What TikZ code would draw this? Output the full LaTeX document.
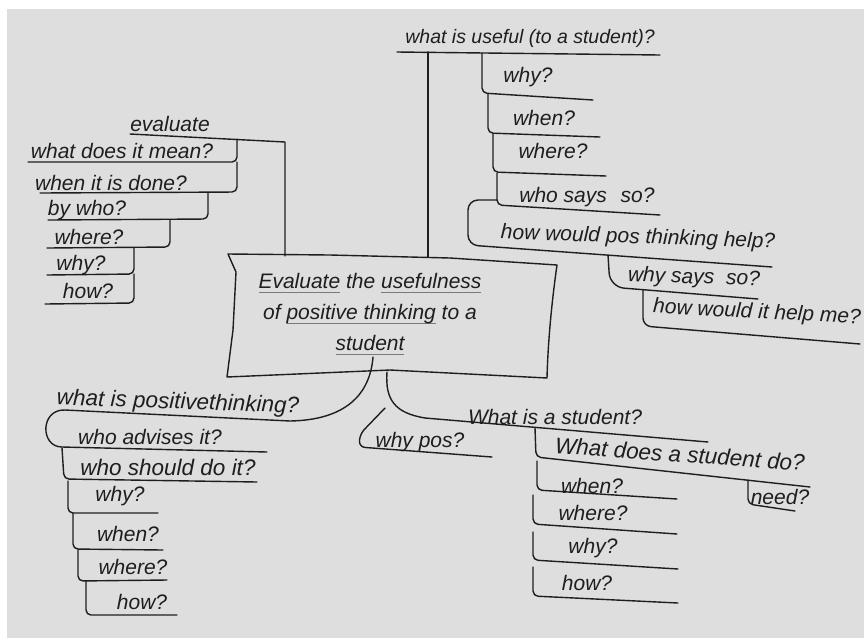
\documentclass[tikz,border=0pt]{standalone}
\usepackage{fontspec}
\setmainfont{Liberation Sans}
\usetikzlibrary{positioning}
\definecolor{paper}{HTML}{DEDEDE}
\definecolor{ink}{HTML}{1E1E1E}
\definecolor{ulgray}{HTML}{7A7A7A}
% gray underline for the words in the centre box
\newcommand{\topicul}[1]{\begingroup\setbox0\hbox{#1}\rlap{\color{ulgray}\rule[-5pt]{\wd0}{1.2pt}}\box0\endgroup}

\begin{document}
\begin{tikzpicture}[
    x=1pt, y=-1pt,
    ink line/.style={draw=ink, line width=1.4pt, line cap=round, line join=round},
    branch/.style={ink line, rounded corners=5pt},
    idea/.style={text=ink, inner sep=0pt, font=\fontsize{21}{24}\selectfont\itshape},
    big idea/.style={idea, font=\fontsize{22.5}{26}\selectfont\itshape},
    topicnode/.style={idea, align=center, font=\fontsize{21}{31}\selectfont\itshape}
]

% paper
\useasboundingbox (0,0) rectangle (864,638);
\fill[paper] (7,9) rectangle (864,638);

% Centre box
\draw[ink line] (228,254) -- (330,255) -- (450,258) -- (557,265)
    .. controls (552,300) and (548,340) .. (547,378) -- (390,370) -- (227,377)
    -- (233,330) -- (236,272) -- cycle;
\node[topicnode] (topic) at (370,314)
    {\topicul{Evaluate} the \topicul{usefulness}\\
     of \topicul{positive thinking} to a\\
     \topicul{student}};

% evaluate
\node[idea] (evaluate) at (170,124) {evaluate};
\node[idea] (evmean) at (122,151) {what does it mean?};
\node[idea] (evdone) at (111,183) {when it is done?};
\node[idea] (evwho) at (87,210) {by who?};
\node[idea] (evwhere) at (89,237) {where?};
\node[idea] (evwhy) at (81,265) {why?};
\node[idea] (evhow) at (88,291) {how?};

\draw[ink line] (285,256) -- (285,142) -- (130,134);
\draw[branch] (28,162) -- (237,162) -- (237,139);
\draw[branch] (40,193) -- (237,192) -- (237,162);
\draw[branch] (48,220) -- (208,219) -- (208,193);
\draw[branch] (47,248) -- (170,247) -- (170,220);
\draw[branch] (47,275) -- (134,274) -- (134,248);
\draw[branch] (45,304) -- (134,303) -- (134,274);

% what is useful
\node[idea, font=\fontsize{19.5}{23}\selectfont\itshape] (useful) at (530,38) {what is useful (to a student)?};
\node[idea] (uswhy) at (528,77) {why?};
\node[idea] (uswhen) at (544,118) {when?};
\node[idea] (uswhere) at (553,151) {where?};
\node[idea] (ussays) at (587,197) {who says\hspace{8pt} so?};
\node[idea, rotate=-2] (ushelp) at (638,238) {how would pos thinking help?};
\node[idea, rotate=-2] (uswhysays) at (694,278) {why says\hspace{6pt} so?};
\node[idea, rotate=-3] (ushelpme) at (757,313) {how would it help me?};

\draw[ink line] (428,257) -- (428,52);
\draw[ink line] (397,52) -- (660,55);
\draw[branch] (482,53) -- (482,93) -- (593,100);
\draw[branch] (488,94) -- (488,133) -- (600,137);
\draw[branch] (493,134) -- (493,172) -- (606,176);
\draw[branch] (497,173) -- (497,205) -- (660,215);
\draw[branch, rounded corners=10pt] (497,200) -- (468,200) -- (468,245) -- (772,267);
\draw[branch, rounded corners=14pt] (608,255) -- (610,287) -- (758,299);
\draw[branch, rounded corners=8pt] (643,290) -- (643,326) -- (860,344);

% what is positive thinking
\node[big idea, rotate=-2] (positive) at (178,403) {what is positivethinking?};
\node[idea] (poadvises) at (150,437) {who advises it?};
\node[big idea] (poshould) at (168,467) {who should do it?};
\node[idea] (powhy) at (120,496) {why?};
\node[idea] (powhen) at (128,534) {when?};
\node[idea] (powhere) at (133,567) {where?};
\node[idea] (pohow) at (142,602) {how?};

\draw[ink line] (373,357) .. controls (370,395) and (345,420) .. (290,421) -- (65,410)
    .. controls (40,409) and (40,447) .. (62,447) -- (267,452);
\draw[branch] (62,448) -- (64,479) -- (257,482);
\draw[branch] (68,481) -- (68,513) -- (158,513);
\draw[branch] (73,513) -- (73,549) -- (163,550);
\draw[branch] (78,550) -- (78,581) -- (167,580);
\draw[branch] (86,581) -- (86,615) -- (177,615);

% what is a student
\node[idea] (student) at (555,417) {What is a student?};
\node[idea] (whypos) at (420,442) {why pos?};
\node[big idea, rotate=-4] (stdo) at (680,454) {What does a student do?};
\node[idea] (stneed) at (780,497) {need?};
\node[idea] (stwhen) at (592,486) {when?};
\node[idea] (stwhere) at (593,513) {where?};
\node[idea] (stwhy) at (593,548) {why?};
\node[idea] (sthow) at (587,583) {how?};

\draw[ink line] (387,372) .. controls (385,400) and (395,413) .. (425,418) -- (708,442);
\draw[branch, rounded corners=6pt] (385,408) -- (360,434) -- (359,447) -- (492,457);
\draw[branch] (535,428) -- (536,457) -- (810,487);
\draw[branch] (748,480) -- (748,504) -- (795,511);
\draw[branch] (537,461) -- (537,490) -- (677,499);
\draw[branch] (533,495) -- (533,524) -- (677,534);
\draw[branch] (533,532) -- (533,560) -- (678,569);
\draw[branch] (533,567) -- (533,596) -- (678,603);

\end{tikzpicture}
\end{document}
